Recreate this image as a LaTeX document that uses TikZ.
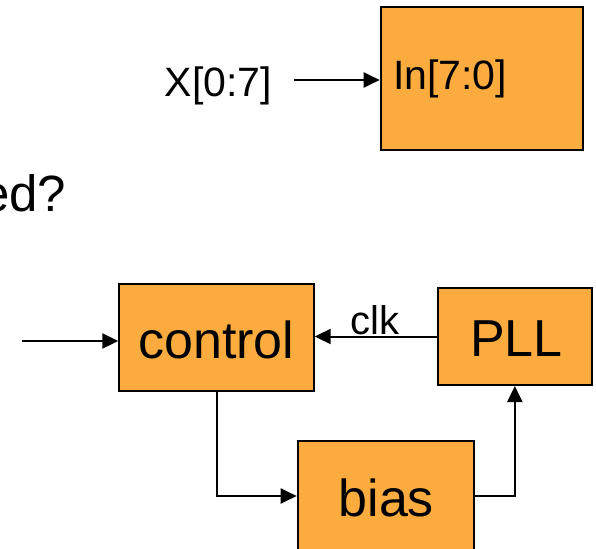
\documentclass[tikz,border=0pt]{standalone}
\usepackage{fontspec}
\setmainfont{Liberation Sans}
\usetikzlibrary{arrows.meta}
\definecolor{boxorange}{RGB}{252,172,62}
\begin{document}
\begin{tikzpicture}[x=1pt,y=1pt,
  blk/.style={draw=black,line width=2pt,fill=boxorange,inner sep=0pt},
  conn/.style={line width=2pt,-{Triangle[length=16pt,width=15pt]}},
  big/.style={font=\fontsize{52}{60}\selectfont,inner sep=0pt},
  mid/.style={font=\fontsize{41}{48}\selectfont,inner sep=0pt}]
\clip (0,0) rectangle (596,-548);
% top block
\node[blk,minimum width=202.6pt,minimum height=143.3pt] (inbox) at (482,-78.35) {};
\node[mid,anchor=base west] (intext) at (393,-90) {In[7:0]};
\node[mid,anchor=base west] (xlab) at (164.5,-96.7) {X[0:7]};
\coordinate (xs) at (294.3,-80);
\draw[conn] (xs) -- (xs -| inbox.west);
\node[font=\fontsize{51}{60}\selectfont,inner sep=0pt,anchor=base east] (edq) at (66.5,-211.7) {ed?};
% lower diagram
\node[blk,minimum width=194.4pt,minimum height=106.7pt] (control) at (216.5,-337.35) {};
\node[big,anchor=base] (ctext) at (216.3,-358.3) {control};
\node[blk,minimum width=154.3pt,minimum height=97pt] (pll) at (514.85,-336.5) {};
\node[big,anchor=base] (ptext) at (516.3,-356.7) {PLL};
\node[blk,minimum width=176.6pt,minimum height=110.6pt] (bias) at (386,-496) {};
\node[big,anchor=base] (btext) at (386.3,-516.3) {bias};
\coordinate (inp) at (21.6,-341);
\draw[conn] (inp) -- (inp -| control.west);
\draw[conn] (pll.west) -- (pll.west -| control.east);
\node[font=\fontsize{40}{48}\selectfont,inner sep=0pt,anchor=base west] (clk) at (350,-334.4) {clk};
\draw[conn] (control.south) |- (bias.west);
\draw[conn] (bias.east) -| (pll.south);
\end{tikzpicture}
\end{document}
